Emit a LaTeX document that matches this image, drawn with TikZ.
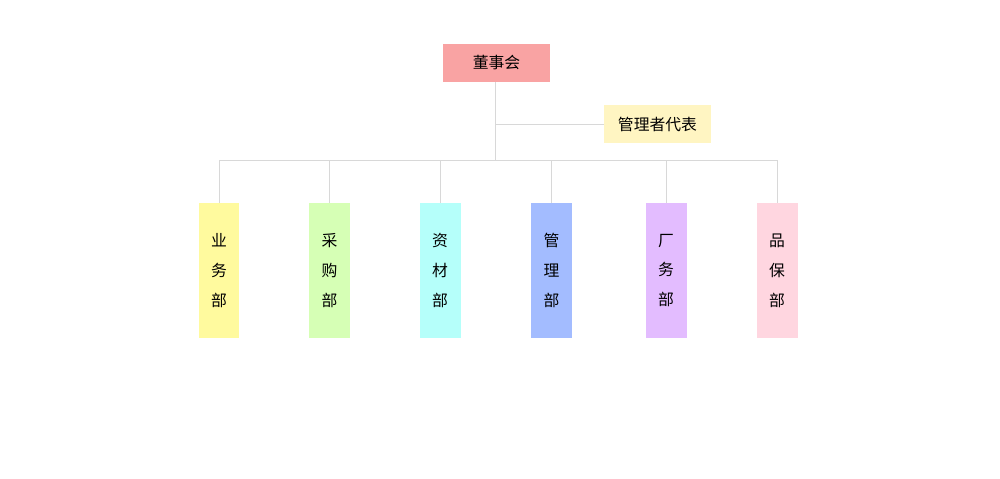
\documentclass[tikz,border=0pt]{standalone}
\usepackage{fontspec}
\newfontfamily\cjk{Noto Sans CJK SC}
\usetikzlibrary{calc}
\definecolor{c00}{HTML}{F9A3A3}
\definecolor{c0r}{HTML}{FFF5C2}
\definecolor{c01}{HTML}{FFFA9E}
\definecolor{c02}{HTML}{D6FFB5}
\definecolor{c03}{HTML}{B5FFFA}
\definecolor{c04}{HTML}{A3BCFF}
\definecolor{c05}{HTML}{E3BCFF}
\definecolor{c06}{HTML}{FFD6E0}
\definecolor{ln}{HTML}{D8D8D8}
\tikzset{
  topbox/.style={rectangle, minimum width=2.14cm, minimum height=0.76cm, font=\cjk\fontsize{9}{10}\selectfont},
  deptbox/.style={rectangle, minimum width=0.82cm, minimum height=2.7cm, align=center, font=\cjk\fontsize{9}{17}\selectfont},
  link/.style={draw=ln, line width=0.5pt}
}
\begin{document}
\begin{tikzpicture}[x=0.02cm,y=-0.02cm]
            \useasboundingbox (0,0) rectangle (1000,478);
            \node[topbox, fill=c00] (board) at (496.5,63) {董事会};
            \node[topbox, fill=c0r] (rep) at (657.5,124) {管理者代表};
            \node[deptbox, fill=c01] (d1) at (219,270.5) {业\\务\\部};
            \node[deptbox, fill=c02] (d2) at (329.5,270.5) {采\\购\\部};
            \node[deptbox, fill=c03] (d3) at (440,270.5) {资\\材\\部};
            \node[deptbox, fill=c04] (d4) at (551.5,270.5) {管\\理\\部};
            \node[deptbox, fill=c05] (d5) at (666,270.5) {厂\\务\\部};
            \node[deptbox, fill=c06] (d6) at (777,270.5) {品\\保\\部};
            \coordinate (hub) at (495,160);
            \draw[link] (board.south -| hub) -- (hub);
            \draw[link] (hub |- rep) -- (rep.west);
            \foreach \d in {d1,d2,d3,d4,d5,d6}
                \draw[link] (hub) -| (\d.north);
        \end{tikzpicture}
\end{document}
